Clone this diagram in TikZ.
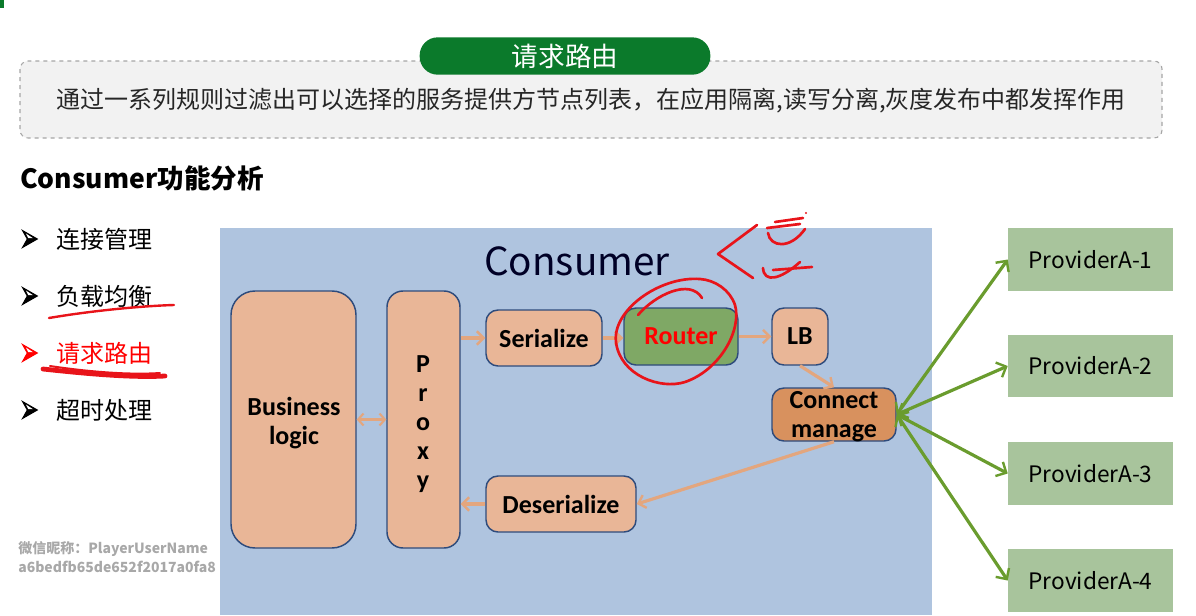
\documentclass[tikz,border=0pt]{standalone}
\usepackage{fontspec}
\setmainfont{Carlito}
\newfontfamily\cjk{Noto Sans CJK SC}
\usetikzlibrary{arrows.meta,fit,calc}

\definecolor{panel}{HTML}{F2F2F2}
\definecolor{panelline}{HTML}{A6A6A6}
\definecolor{pill}{HTML}{0B7A2B}
\definecolor{txt}{HTML}{262626}
\definecolor{bluebg}{HTML}{AFC4DF}
\definecolor{boxfill}{HTML}{E9B697}
\definecolor{boxline}{HTML}{2E4B7C}
\definecolor{cmfill}{HTML}{D8915E}
\definecolor{routerfill}{HTML}{7FA865}
\definecolor{provfill}{HTML}{A8C49C}
\definecolor{flow}{HTML}{E3A67E}
\definecolor{link}{HTML}{6A9C2E}
\definecolor{ink}{HTML}{E8141A}
\definecolor{mark}{HTML}{A8A8A8}

\tikzset{
  px/.style={x=0.75pt,y=-0.75pt},
  stage/.style={draw=boxline,line width=1.1pt,fill=boxfill,rounded corners=9pt,inner sep=0pt},
  stagetext/.style={font=\fontsize{19.5}{21.75}\selectfont\bfseries,text=black,align=center,inner sep=0pt},
  provider/.style={fill=provfill,inner sep=0pt},
  flowarrow/.style={draw=flow,line width=2.4pt,-{Straight Barb[length=5pt,width=10pt,line width=1.8pt]}},
  linkarrow/.style={draw=link,line width=2.4pt,{Straight Barb[length=6pt,width=12pt,line width=1.8pt]}-{Straight Barb[length=6pt,width=12pt,line width=1.8pt]}},
  pen/.style={draw=ink,line width=2pt,line cap=round,line join=round},
  bullettext/.style={anchor=west,font=\cjk\fontsize{18}{22}\selectfont,text=black,inner sep=0pt},
}

\begin{document}
\begin{tikzpicture}[px]
\useasboundingbox (0,0) rectangle (1196,615);

% corner accent
\fill[pill] (0,0) rectangle (4,8);

% header panel
\draw[panelline,dashed,fill=panel,rounded corners=6pt,line width=0.8pt] (20,61) rectangle (1162,138);
\node[fill=pill,rounded corners=13.5pt,minimum width=218pt,minimum height=28pt,inner sep=0pt,
  text=white,font=\cjk\fontsize{20}{22}\selectfont] (title) at (565,56) {请求路由};
\node[font=\cjk\fontsize{18}{22}\selectfont,text=txt,inner sep=0pt] (desc) at (591,101)
  {通过一系列规则过滤出可以选择的服务提供方节点列表，在应用隔离,读写分离,灰度发布中都发挥作用};

% left column
\node[anchor=west,inner sep=0pt,font=\cjk\bfseries\fontsize{19.9}{22}\selectfont,text=black] (head) at (20,178) {Consumer功能分析};

\foreach \y/\t/\c [count=\i] in {239/连接管理/black,296/负载均衡/black,353/请求路由/red,410/超时处理/black}{
  \filldraw[\c,line width=1pt,line join=miter] (23,\y-8) -- (37,\y) -- (23,\y+8) -- (27.5,\y) -- cycle;
  \fill[white] (26,\y-5.5) -- (33,\y-0.8) -- (28.3,\y-0.8) -- cycle;
  \node[bullettext,text=\c] (item\i) at (56,\y) {\t};
}

% pen marks on the list
\draw[pen,line width=1.8pt] (49,318) .. controls (90,311) and (140,306) .. (174,305);
\draw[pen,line width=3.6pt] (43,369) .. controls (80,373) and (130,378) .. (165,376);
\draw[pen,line width=1.5pt] (50,366) .. controls (90,372) and (130,375) .. (160,373);

% watermark
\node[anchor=west,inner sep=0pt,text=mark,font=\cjk\bfseries\fontsize{10.5}{12}\selectfont] (wm1) at (18,549) {微信昵称：PlayerUserName};
\node[anchor=west,inner sep=0pt,text=mark,font=\cjk\bfseries\fontsize{10.5}{12}\selectfont] (wm2) at (18,567) {a6bedfb65de652f2017a0fa8};

% consumer area
\fill[bluebg] (220,228) rectangle (932,615);
\node[font=\cjk\fontsize{29}{32}\selectfont,text=black!85!blue,inner sep=0pt] (ctitle) at (577,261) {Consumer};

\node[stage,rounded corners=18pt,fit={(231,291) (356,548)}] (biz) {};
\node[stagetext] at (294,423) {Business\\logic};
\node[stage,rounded corners=12pt,fit={(387,291) (460,548)}] (proxy) {};
\node[stagetext] at (423,424) {P\\r\\o\\x\\y};
\node[stage,fit={(486,310) (602,366)}] (ser) {};
\node[stagetext] at (ser.center) {Serialize};
\node[stage,fill=routerfill,fit={(624,308) (738,365)}] (router) {};
\node[stagetext,text=red] at (router.center) {Router};
\node[stage,fit={(772,308) (828,365)}] (lb) {};
\node[stagetext] at (lb.center) {LB};
\node[stage,fill=cmfill,fit={(772,388) (896,441)}] (cm) {};
\node[stagetext] at (834,417) {Connect\\manage};
\node[stage,fit={(486,476) (636,532)}] (deser) {};
\node[stagetext] at (deser.center) {Deserialize};

% request / response flow
\draw[flowarrow] (ser.west -| proxy.east) -- (ser.west);
\draw[flowarrow] (ser.east) -- (router.west |- ser.east);
\draw[flowarrow] (router.east) -- (lb.west);
\draw[flowarrow] (lb.south) -- (cm.north);
\draw[flowarrow] (cm.south) -- (deser.east);
\draw[flowarrow] (deser.west) -- (deser.west -| proxy.east);
\draw[draw=flow,line width=2pt,{Straight Barb[length=4pt,width=9pt,line width=1.6pt]}-{Straight Barb[length=4pt,width=9pt,line width=1.6pt]}] (biz.east) -- (proxy.west);

% providers
\node[provider,fit={(1008,228) (1173,291)}] (p1) {};
\node[provider,fit={(1008,335) (1173,397)}] (p2) {};
\node[provider,fit={(1008,442) (1173,505)}] (p3) {};
\node[provider,fit={(1008,549) (1173,612)}] (p4) {};
\foreach \n in {1,2,3,4}{
  \node[font=\cjk\fontsize{17}{19}\selectfont,inner sep=0pt] at (p\n.center) {ProviderA-\n};
  \draw[linkarrow] (cm.east) -- (p\n.west);
}

% pen marks around the router
\draw[pen] (638,315) .. controls (655,295) and (690,278) .. (702,298);
\draw[pen] (700,279) .. controls (660,276) and (612,310) .. (616,342)
  .. controls (620,375) and (660,390) .. (685,382)
  .. controls (720,370) and (742,330) .. (735,305)
  .. controls (730,290) and (715,280) .. (700,279);
\draw[pen] (757,225) -- (718,254) -- (753,278);
\draw[pen] (775,222) -- (803,218);
\draw[pen] (767,228) -- (800,224);
\draw[pen] (768,233) .. controls (770,247) and (790,250) .. (805,229);
\draw[pen] (773,270) -- (812,267);
\draw[pen] (763,268) .. controls (764,283) and (780,280) .. (800,262);
\fill[ink] (806,213) circle (1.2);
\end{tikzpicture}
\end{document}
